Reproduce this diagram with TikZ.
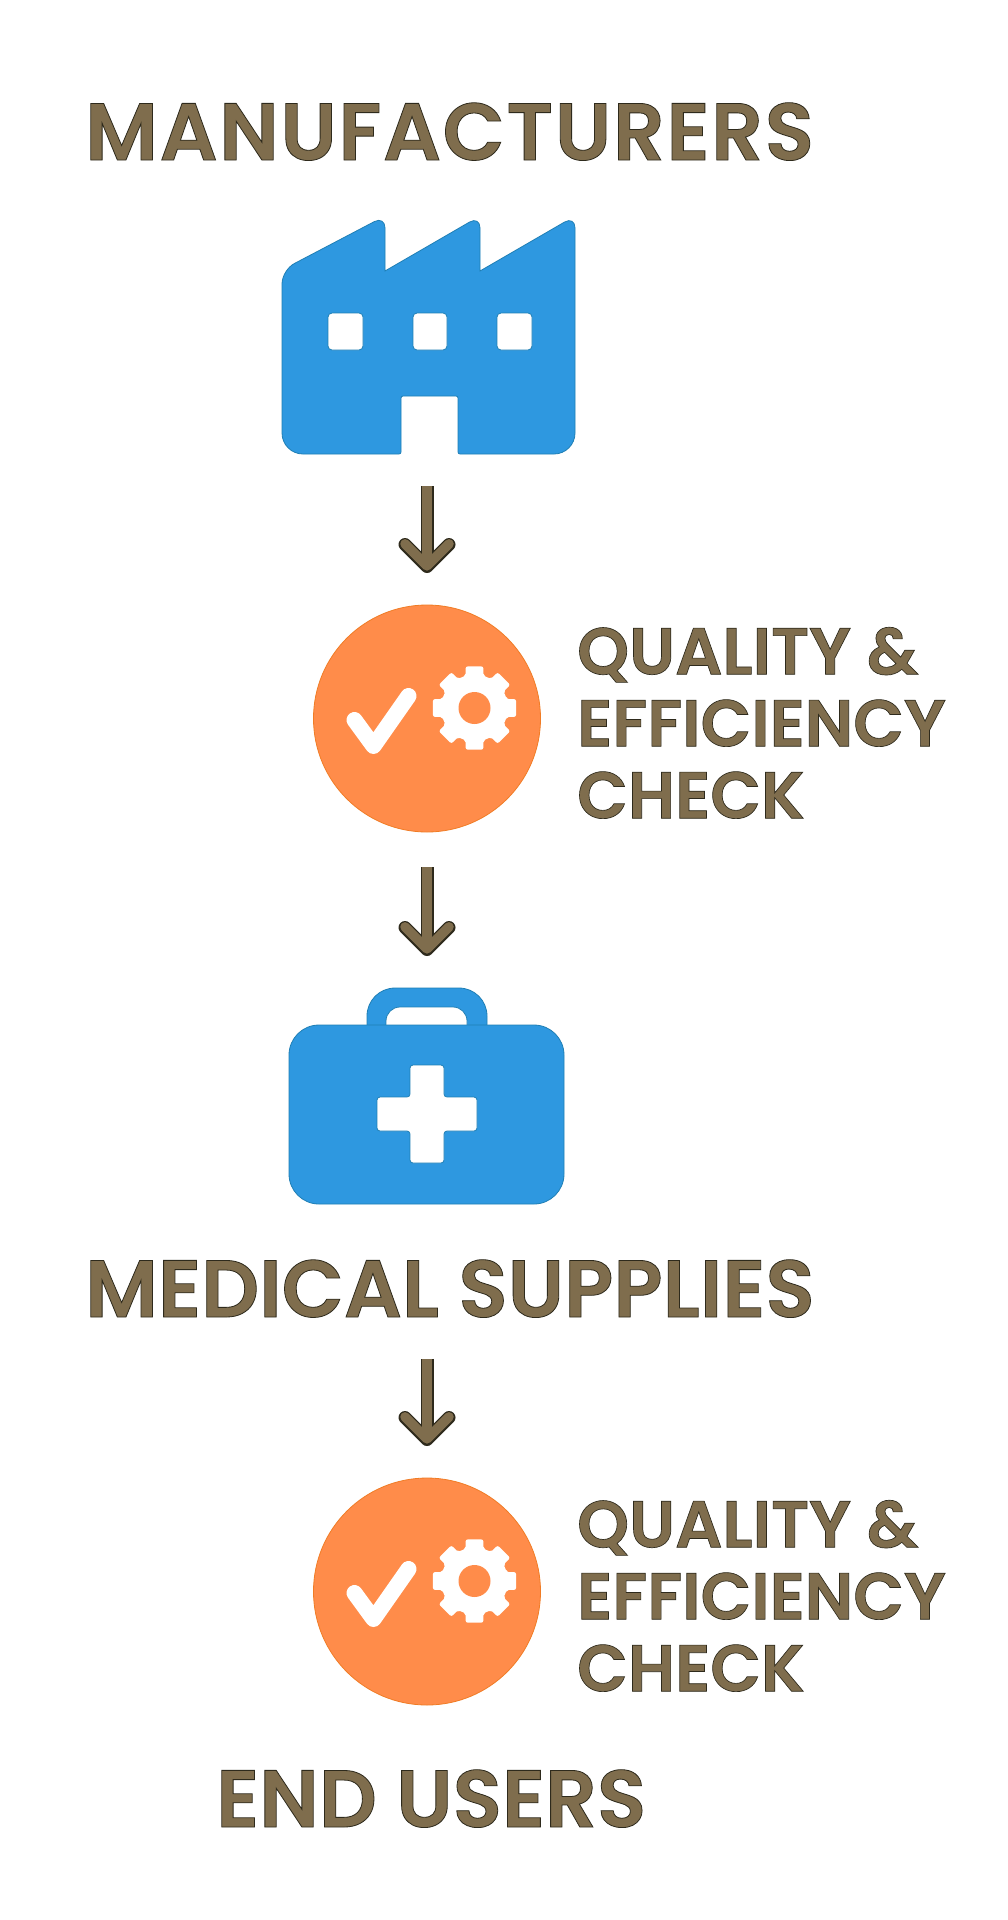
\documentclass[tikz,border=0pt]{standalone}
\usepackage{fontspec}
\usetikzlibrary{arrows.meta,calc}
\newfontfamily\labelfont{Poppins SemiBold}
\definecolor{inkfill}{HTML}{7F6D4D}
\definecolor{inkedge}{HTML}{2E2A1C}
\definecolor{kitblue}{HTML}{2E98E0}
\definecolor{blueedge}{HTML}{1F7FB5}
\definecolor{badgeorange}{HTML}{FF8C4A}
\definecolor{orangeedge}{HTML}{F07C25}
\newcommand{\inked}[2][0]{{\addfontfeature{FakeBold=1,LetterSpace=#1}\special{pdf:code 0.18 0.165 0.11 RG}#2}}
\tikzset{
  x=1pt,y=-1pt,
  bigtext/.style={anchor=base west,inner sep=0pt,text=inkfill,font=\labelfont\fontsize{81}{81}\selectfont},
  sidetext/.style={anchor=north west,inner sep=0pt,text=inkfill,align=left,font=\labelfont\fontsize{66}{72}\selectfont},
  ghost/.style={inner sep=0pt,outer sep=0pt,rectangle},
  blueshape/.style={fill=kitblue,draw=blueedge,line width=0.8pt},
  holeshape/.style={fill=white,draw=blueedge,line width=0.8pt},
  badge/.style={circle,inner sep=0pt,outer sep=0pt,minimum size=227pt,fill=badgeorange,draw=orangeedge,line width=0.8pt},
  flow/.style={line width=9.5pt,draw=inkfill,shorten >=34.4pt,-{Straight Barb[length=22pt,width=44pt,round]},
    preaction={draw=inkedge,line width=13pt,shorten >=32pt}},
  badgeicons/.pic={
    \draw[white,line width=16pt,line cap=round,line join=round] (-72.5,1.5) -- (-53.5,27.5) -- (-18.5,-22.5);
    \fill[white,rounded corners=2pt] ({47.5+33.5*cos(-15.5)},{-10.5+33.5*sin(-15.5)})
      \foreach \a in {0,45,...,315}{
        -- ({47.5+42.5*cos(\a-12)},{-10.5+42.5*sin(\a-12)})
        -- ({47.5+42.5*cos(\a+12)},{-10.5+42.5*sin(\a+12)})
        -- ({47.5+33.5*cos(\a+15.5)},{-10.5+33.5*sin(\a+15.5)})
        -- ({47.5+33.5*cos(\a+29.5)},{-10.5+33.5*sin(\a+29.5)})
      } -- cycle;
    \fill[badgeorange] (47.5,-10.5) circle[radius=16pt];
  }
}
\begin{document}
\begin{tikzpicture}
\useasboundingbox (0,0) rectangle (1008,1920);
\fill[white] (0,0) rectangle (1008,1920);

\node[bigtext] (manufacturers) at (85,160) {\inked[2]{MANUFACTURERS}};

% factory
\node[ghost,minimum width=293pt,minimum height=232pt] (factory) at (428,338) {};
\draw[blueshape,rounded corners=0pt]
  (385,271) [rounded corners=12pt] -- (480,216) [rounded corners=0pt] -- (480,271)
  [rounded corners=12pt] -- (575,216) [rounded corners=21pt] -- (575,454)
  [rounded corners=2pt] -- (458,454) -- (458,396) -- (401,396) -- (401,454)
  [rounded corners=21pt] -- (282,454) [rounded corners=14pt] -- (282,270) [rounded corners=12pt] -- (385,216)
  [rounded corners=0pt] -- cycle;
\draw[holeshape,rounded corners=4pt] (328,313) rectangle (363,350);
\draw[holeshape,rounded corners=4pt] (413,313) rectangle (447,350);
\draw[holeshape,rounded corners=4pt] (497,313) rectangle (532,350);

% first check
\node[badge] (checka) at (427,718.5) {};
\pic at (checka.center) {badgeicons};
\node[sidetext] (labela) at (577,627) {\inked{QUALITY \&}\\\inked{EFFICIENCY}\\\inked{CHECK}};

% kit
\node[ghost,minimum width=275pt,minimum height=216pt] (kit) at (427,1096) {};
\draw[blueshape,rounded corners=28pt] (367,1080) -- (367,988) -- (487,988) -- (487,1080) -- cycle;
\draw[holeshape,rounded corners=14pt] (386,1070) -- (386,1007) -- (467,1007) -- (467,1070) -- cycle;
\draw[blueshape,rounded corners=30pt] (289,1025) rectangle (564,1204);
\path[fill=white,draw=blueedge,line width=0.8pt,rounded corners=3pt]
  (410,1065) -- (444,1065) -- (444,1097) -- (477,1097) -- (477,1131) -- (444,1131)
  -- (444,1163) -- (410,1163) -- (410,1131) -- (377,1131) -- (377,1097) -- (410,1097) -- cycle;

\node[bigtext] (medical) at (85,1317) {\inked{MEDICAL SUPPLIES}};

% second check
\node[badge] (checkb) at (427,1591.5) {};
\pic at (checkb.center) {badgeicons};
\node[sidetext] (labelb) at (577,1500) {\inked{QUALITY \&}\\\inked{EFFICIENCY}\\\inked{CHECK}};

\node[bigtext] (endusers) at (216,1827) {\inked{END USERS}};

% connectors
\draw[flow,shorten <=32pt] (factory.south -| checka.north) -- (checka.north);
\draw[flow,shorten <=35pt] (checka.south) -- (kit.north);
\draw[flow,shorten <=41pt] (medical.south -| checkb.north) -- (checkb.north);
\end{tikzpicture}
\end{document}
